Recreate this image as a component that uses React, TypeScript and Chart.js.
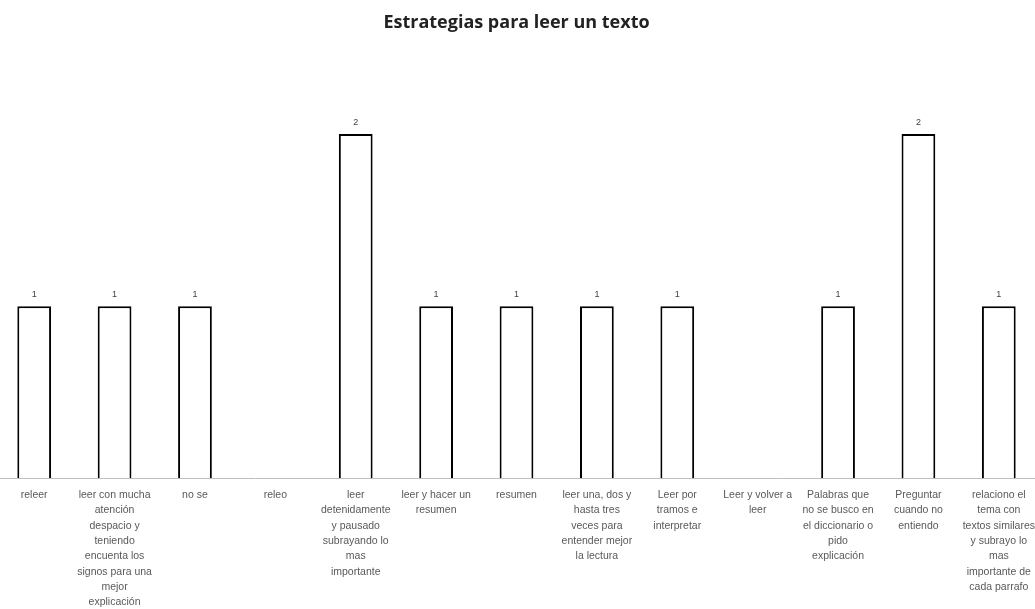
import React, { useEffect, useRef } from "react";
import { Chart, registerables } from "chart.js";

Chart.register(...registerables);

const categories: string[][] = [
  ["releer"],
  ["leer con mucha", "atención", "despacio y", "teniendo", "encuenta los", "signos para una", "mejor", "explicación"],
  ["no se"],
  ["releo"],
  ["leer", "detenidamente", "y pausado", "subrayando lo", "mas", "importante"],
  ["leer y hacer un", "resumen"],
  ["resumen"],
  ["leer una, dos y", "hasta tres", "veces para", "entender mejor", "la lectura"],
  ["Leer por", "tramos e", "interpretar"],
  ["Leer y volver a", "leer"],
  ["Palabras que", "no se busco en", "el diccionario o", "pido", "explicación"],
  ["Preguntar", "cuando no", "entiendo"],
  ["relaciono el", "tema con", "textos similares", "y subrayo lo", "mas", "importante de", "cada parrafo"],
];

const values: number[] = [1, 1, 1, 0, 2, 1, 1, 1, 1, 0, 1, 2, 1];

const titleText = "Estrategias para leer un texto";

const valueLabels = {
  id: "valueLabels",
  afterDatasetsDraw(chart: any) {
    const ctx = chart.ctx;
    const meta = chart.getDatasetMeta(0);
    ctx.save();
    ctx.font = "9px 'Liberation Sans', sans-serif";
    ctx.fillStyle = "#404040";
    ctx.textAlign = "center";
    ctx.textBaseline = "middle";
    meta.data.forEach((bar: any, i: number) => {
      const v = values[i];
      if (v > 0) ctx.fillText(String(v), bar.x, bar.y - 12);
    });
    ctx.restore();
  },
};

export default function App() {
  const ref = useRef<HTMLCanvasElement | null>(null);
  useEffect(() => {
    if (!ref.current) return;
    const chart = new Chart(ref.current, {
      type: "bar",
      data: {
        labels: categories,
        datasets: [
          {
            data: values,
            backgroundColor: "#ffffff",
            borderColor: "#000000",
            borderWidth: 2,
            categoryPercentage: 1,
            barPercentage: 0.42,
          },
        ],
      },
      options: {
        responsive: false,
        animation: false,
        layout: { padding: { top: 12, bottom: -2, left: 0, right: 0 } },
        plugins: {
          legend: { display: false },
          tooltip: { enabled: false },
          title: {
            display: true,
            text: titleText,
            color: "#222222",
            font: { size: 18, weight: "bold", family: "'Open Sans', sans-serif" },
            padding: { top: 0, bottom: 66 },
          },
        },
        scales: {
          x: {
            grid: { display: false },
            border: { display: true, color: "#bfbfbf", width: 1 },
            ticks: {
              maxRotation: 0,
              minRotation: 0,
              autoSkip: false,
              color: "#595959",
              padding: 1,
              font: { size: 10.5, family: "'Liberation Sans', sans-serif", lineHeight: 1.46 },
            },
          },
          y: {
            display: false,
            min: 0,
            max: 2.2,
          },
        },
      },
      plugins: [valueLabels],
    });
    return () => chart.destroy();
  }, []);
  return (
    <div style={{ position: "absolute", left: -6, top: 0, width: 1045, height: 609 }}>
      <canvas ref={ref} width={1045} height={609} style={{ width: 1045, height: 609 }} />
    </div>
  );
}
